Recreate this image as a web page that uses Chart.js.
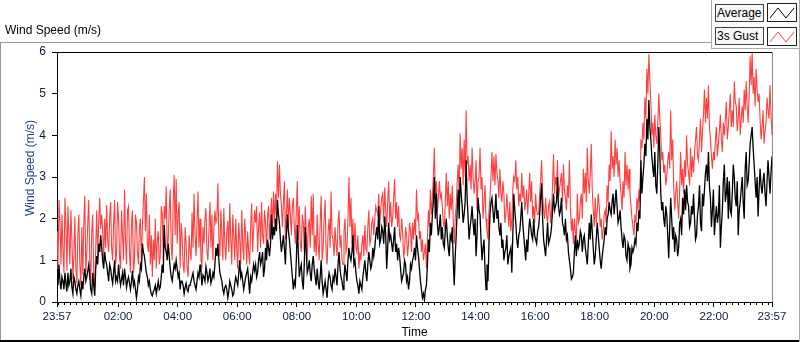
<!DOCTYPE html>
<html>
<head>
<meta charset="utf-8">
<script src="https://cdn.jsdelivr.net/npm/chart.js@4.4.1/dist/chart.umd.min.js"></script>
<style>
  html,body{margin:0;padding:0;background:#fff;}
  #wrap{position:relative;width:800px;height:342px;overflow:hidden;font-family:"Liberation Sans",Arial,sans-serif;}
  #c{position:absolute;left:0;top:0;}
  .ln{position:absolute;}
  #title{position:absolute;left:5px;top:23px;font-size:12px;color:#000;white-space:nowrap;}
  .lgtext{position:absolute;left:715px;width:46px;height:16px;border:1px solid #404040;background:#f7f7f7;font-size:12px;line-height:16px;padding-left:1px;box-sizing:content-box;white-space:nowrap;color:#000;}
  .lgicon{position:absolute;left:767px;width:28px;height:17px;border:1px solid #202020;background:#fff;}
</style>
</head>
<body>
<div id="wrap">
  <canvas id="c" width="800" height="342"></canvas>
  <div id="title">Wind Speed (m/s)</div>
  <div class="ln" style="left:0;top:42px;width:712px;height:1px;background:#999;"></div>
  <div class="ln" style="left:0;top:42px;width:1px;height:300px;background:#999;"></div>
  <div class="ln" style="left:0;top:340px;width:800px;height:2px;background:#000;"></div>
  <div class="ln" style="left:711px;top:0;width:1px;height:49px;background:#aaa;"></div>
  <div class="ln" style="left:711px;top:48px;width:89px;height:1px;background:#aaa;"></div>
  <div class="ln" style="left:799px;top:0;width:1px;height:342px;background:#aaa;"></div>
  <div class="lgtext" style="top:4px;">Average</div>
  <div class="lgicon" style="top:3px;"><svg width="28" height="17"><polyline points="2,14 10,4 18,14 26,4" fill="none" stroke="#000" stroke-width="1"/></svg></div>
  <div class="lgtext" style="top:27px;">3s Gust</div>
  <div class="lgicon" style="top:27px;"><svg width="28" height="17"><polyline points="2,14 10,4 18,14 26,4" fill="none" stroke="#ff4040" stroke-width="1"/></svg></div>
</div>
<script>
// One value every 2 minutes, from 23:57 to 23:57 the next day
const SAMPLE_MINUTES = 2;
const seriesNames = ["Average", "3s Gust"];
const yAxisTitle = "Wind Speed (m/s)";
const xAxisTitle = "Time";
const tickMinutes = [0, 123, 243, 363, 483, 603, 723, 843, 963, 1083, 1203, 1323, 1440];
const tickLabels = ["23:57","02:00","04:00","06:00","08:00","10:00","12:00","14:00","16:00","18:00","20:00","22:00","23:57"];

const gust = [
  1.7,0.8,2.45,1.9,0.9,2.1,1.25,0.7,2.5,1.8,0.75,2.3,1.6,0.9,2.2,1.5,0.55,1.1,2.05,0.8,
  0.45,1.6,2.1,0.9,0.4,1.8,0.65,1.9,2.55,0.7,1.2,1.9,2.45,1.0,0.5,1.7,2.1,0.6,0.35,1.3,
  2.2,1.1,1.9,2.5,1.75,2.1,1.7,1.0,2.0,1.3,2.33,1.5,1.2,2.0,2.4,1.3,1.0,1.9,2.45,0.9,
  1.2,2.4,2.0,1.1,0.8,2.2,1.6,1.0,2.7,1.5,0.9,2.2,2.3,1.2,0.7,1.9,2.2,0.7,1.0,2.1,
  1.9,1.2,0.9,1.8,2.0,1.0,1.8,2.4,3.0,1.7,2.6,1.4,1.2,2.1,0.9,1.6,0.6,1.5,1.0,2.0,
  0.8,1.5,1.7,0.9,1.1,2.3,2.1,1.0,2.3,2.0,2.78,1.2,1.5,2.2,2.7,1.3,1.0,2.4,3.05,1.6,
  2.95,1.4,2.1,2.4,0.8,1.9,1.6,0.9,0.7,1.8,1.4,0.8,0.6,1.6,1.25,1.0,2.15,1.3,2.6,1.6,
  1.1,1.9,2.65,1.3,2.0,1.0,0.9,1.8,1.4,2.0,2.25,1.2,1.0,1.7,2.4,1.3,2.1,1.0,1.75,2.2,
  1.9,2.0,2.85,1.5,1.1,2.2,1.6,1.0,2.25,1.4,1.0,1.7,1.95,1.2,2.37,1.5,0.9,2.1,1.6,1.0,
  2.0,1.3,0.8,1.9,1.5,0.9,2.2,1.4,1.0,2.0,1.6,0.9,1.7,1.2,0.9,1.8,2.37,1.2,1.75,2.2,
  1.9,2.3,1.2,1.8,2.15,1.3,2.4,1.6,1.4,2.2,1.9,1.2,2.05,2.3,1.5,2.0,2.5,1.7,2.65,1.9,
  2.6,2.0,3.38,2.5,3.3,2.6,2.3,1.8,2.4,2.9,1.5,2.1,2.7,1.8,2.5,2.1,1.6,2.3,2.5,1.8,
  1.4,2.2,2.9,1.5,2.3,1.4,1.2,2.1,1.9,1.2,2.3,1.7,1.0,1.8,2.0,1.3,2.55,1.6,2.6,1.2,
  1.6,1.1,2.1,1.4,1.0,1.9,2.55,1.0,1.3,2.0,2.45,1.2,0.9,1.7,2.0,1.3,2.65,1.6,1.5,1.1,
  1.8,1.4,1.1,1.9,2.2,1.3,1.6,1.0,0.9,1.7,2.0,1.2,1.3,2.0,3.0,1.8,2.5,1.4,2.0,1.1,
  1.9,1.3,1.2,1.6,0.8,1.2,1.0,1.4,1.6,1.1,1.85,1.3,1.2,1.8,2.2,1.4,1.5,1.9,2.0,1.6,
  2.0,2.3,2.2,2.1,2.6,1.8,2.25,2.5,2.6,1.9,2.75,2.2,1.8,2.4,2.9,1.9,2.4,1.8,2.0,2.5,
  2.95,2.0,2.4,1.8,2.3,1.6,1.5,2.0,1.7,1.1,1.2,1.8,1.6,1.1,1.4,1.9,1.7,1.2,1.9,1.5,
  2.0,1.6,2.7,2.0,2.1,1.5,1.7,1.2,1.5,1.0,1.2,1.4,0.8,1.5,2.2,1.8,2.7,2.1,2.5,3.0,
  3.7,2.5,2.9,2.2,2.5,2.9,2.5,2.6,2.3,1.9,1.8,2.4,3.1,2.3,2.9,2.0,2.6,2.2,2.8,2.0,
  1.4,2.0,2.3,2.9,3.3,2.6,4.05,3.2,3.7,2.8,3.9,3.0,4.6,3.3,3.5,2.9,3.3,2.7,3.7,3.0,
  2.6,2.9,3.4,2.2,2.9,3.0,3.7,2.7,3.0,2.0,2.4,2.8,2.0,1.7,1.5,2.2,2.5,3.0,3.6,2.9,
  3.5,2.8,3.55,3.1,2.9,2.5,3.2,2.6,2.4,2.9,2.6,1.9,2.1,2.6,2.2,1.8,2.4,1.7,2.0,2.7,
  3.0,2.9,3.4,2.7,3.0,2.3,2.6,2.4,3.1,2.5,2.8,2.2,2.4,2.7,2.1,2.6,3.1,2.4,2.9,2.0,
  2.3,1.9,2.6,2.2,2.1,2.1,2.6,2.9,3.4,2.6,2.2,2.0,2.5,2.1,1.9,2.3,2.4,1.9,2.2,2.8,
  3.55,2.6,3.0,2.8,3.4,2.5,2.7,2.9,3.1,2.4,3.3,2.7,2.5,2.2,2.8,2.5,3.4,2.3,1.7,2.0,
  1.4,2.0,1.7,1.5,2.6,1.9,2.0,2.4,2.6,2.0,3.2,2.6,3.1,2.4,3.7,2.9,2.6,3.1,3.8,2.7,
  2.2,1.8,2.5,1.9,2.2,2.6,2.3,1.8,2.0,1.5,1.7,2.1,2.2,1.9,2.8,2.4,3.3,2.9,4.1,3.2,
  3.5,3.0,3.9,3.3,3.7,3.0,3.4,2.9,2.6,2.2,2.9,2.5,3.6,2.8,3.3,2.7,3.2,2.6,2.3,2.0,
  1.8,1.6,2.1,1.9,2.5,2.2,2.7,2.4,3.9,3.7,4.3,3.9,4.9,4.4,5.6,5.0,5.95,5.3,4.8,4.0,
  4.3,3.7,4.5,4.0,3.8,4.3,5.0,4.4,4.0,3.4,3.6,3.1,3.3,2.8,3.0,3.4,3.6,3.2,4.6,3.4,
  3.9,2.8,2.2,2.6,2.9,2.4,2.0,2.7,3.6,2.8,3.2,2.6,3.4,3.0,4.0,3.3,3.1,2.8,3.7,3.0,
  3.5,3.1,3.6,3.9,4.2,3.5,3.4,3.9,4.4,3.6,4.1,4.5,5.1,4.3,4.9,4.4,5.2,4.2,3.9,3.5,
  3.2,3.6,3.4,3.9,4.2,3.5,3.8,4.1,4.5,3.9,3.6,4.3,4.0,4.4,4.8,3.9,4.2,4.6,5.0,4.2,
  4.6,4.2,5.3,4.8,4.7,4.1,4.4,4.9,4.0,4.4,4.7,4.3,5.1,4.6,5.3,4.7,4.3,5.0,5.9,5.2,
  6.0,5.0,5.4,4.7,5.6,5.1,4.8,5.0,4.4,3.9,4.2,4.6,3.8,4.1,4.3,4.9,4.6,4.4,5.2,4.5,4.0
];

const average = [
  0.6,0.4,0.9,0.5,0.3,0.6,0.5,0.3,0.7,0.45,0.25,0.7,0.4,0.5,0.8,0.35,0.2,0.6,0.5,0.3,
  0.2,0.4,0.5,0.3,0.15,0.5,0.3,0.6,0.8,0.5,0.6,0.75,0.9,0.6,0.3,0.2,0.7,0.4,0.15,0.8,
  1.1,0.9,1.4,1.2,1.6,1.3,1.0,0.8,1.2,1.0,0.9,0.7,0.5,0.9,0.8,0.6,0.45,0.7,1.0,0.5,
  0.6,0.5,0.9,0.6,0.4,0.55,0.7,0.4,0.8,0.6,0.35,0.5,0.6,0.45,0.3,0.5,0.75,0.4,0.5,0.3,
  0.1,0.3,0.6,0.5,0.9,0.8,1.4,1.2,1.1,0.9,0.7,0.6,0.4,0.5,0.3,0.2,0.15,0.25,0.3,0.4,
  0.2,0.35,0.5,0.3,0.35,0.6,0.9,0.7,1.85,1.3,1.2,1.0,1.4,1.1,0.8,0.6,0.5,0.7,0.9,0.8,
  1.0,0.8,0.6,0.7,0.3,0.5,0.5,0.4,0.2,0.35,0.45,0.3,0.25,0.4,0.4,0.5,0.6,0.7,0.5,0.4,
  0.3,0.5,0.7,0.6,0.9,0.7,0.4,0.65,0.6,0.5,0.85,0.7,0.5,0.6,0.8,0.45,0.55,0.7,0.6,0.9,
  1.3,1.1,1.4,1.0,0.7,0.6,0.5,0.3,0.2,0.35,0.4,0.3,0.1,0.25,0.5,0.4,0.3,0.15,0.2,0.45,
  0.6,0.5,0.4,0.7,1.0,0.6,0.7,0.5,0.3,0.45,0.6,0.7,0.8,0.5,0.2,0.6,0.5,0.7,0.9,0.75,
  0.9,0.6,0.7,1.0,1.2,0.9,1.0,1.2,0.6,0.8,1.3,1.0,1.5,1.3,1.1,1.4,2.1,1.5,1.8,1.6,
  2.0,1.7,2.45,2.1,1.9,1.5,1.2,1.4,1.6,1.3,0.9,1.6,2.1,1.7,1.5,1.2,0.9,0.6,0.3,0.5,
  0.4,1.0,1.85,1.2,0.6,0.8,0.9,0.5,0.3,0.9,1.8,1.2,0.7,0.8,1.0,0.7,0.5,0.9,1.1,0.8,
  0.6,0.4,0.8,0.5,0.3,0.6,1.0,0.5,0.2,0.35,0.5,0.3,0.1,0.5,0.7,0.6,0.4,0.3,0.6,0.5,
  0.8,0.6,0.4,0.9,1.2,0.8,0.6,0.5,0.3,0.6,0.9,0.7,0.5,1.0,1.3,1.1,1.0,1.2,1.6,0.9,
  1.0,0.7,0.5,0.4,0.2,0.5,0.4,0.3,0.6,0.8,1.0,0.7,0.5,0.9,1.2,1.0,0.8,0.9,1.3,1.1,
  1.3,1.6,1.8,1.5,2.3,1.4,1.5,1.8,1.7,1.4,2.05,1.6,0.8,1.3,1.9,1.5,1.6,1.4,1.2,1.5,
  1.8,1.2,1.4,1.0,1.3,1.1,0.8,0.5,0.6,0.7,1.0,0.9,0.5,0.6,0.3,0.5,0.9,0.8,1.0,1.1,
  1.3,1.0,1.6,1.3,1.1,0.8,0.5,0.3,0.1,0.2,0.05,0.3,0.4,0.9,1.5,1.2,1.9,1.6,2.1,2.4,
  3.0,2.0,2.6,1.9,1.6,1.8,2.1,1.5,1.8,1.4,1.3,1.7,2.0,1.6,1.3,1.1,1.6,1.5,1.8,1.0,
  0.4,1.1,1.6,2.2,2.7,2.0,3.0,2.6,2.3,1.9,2.1,2.4,3.4,2.5,2.0,1.5,1.8,2.0,2.3,1.9,
  1.6,2.0,1.1,1.6,2.5,2.2,2.1,1.5,1.0,1.3,1.5,0.8,0.3,0.9,0.5,1.4,2.1,2.4,2.5,2.2,
  1.9,2.2,2.6,2.0,2.2,1.8,1.6,1.9,1.3,1.5,1.0,1.2,1.3,1.6,0.9,1.1,1.2,1.3,0.7,1.6,
  2.6,2.2,1.9,1.5,1.3,1.6,1.7,2.0,2.4,1.9,1.6,1.3,1.0,1.5,1.2,1.7,2.0,1.8,1.6,1.5,
  2.0,1.6,1.5,1.4,1.7,1.8,2.1,2.5,2.85,2.0,1.5,1.3,1.1,1.5,1.9,1.4,1.5,1.6,1.8,2.2,
  2.6,2.2,2.3,2.4,3.0,2.3,2.1,2.2,2.5,1.9,1.8,1.6,2.0,1.5,1.6,1.2,1.0,0.8,0.55,0.6,
  0.7,1.2,1.6,1.1,1.5,1.3,1.4,1.7,1.6,1.2,1.5,1.6,1.3,1.1,0.9,1.4,1.9,1.5,2.1,1.7,
  1.3,0.9,1.1,1.5,1.9,1.6,1.3,1.0,0.8,1.1,1.3,1.5,1.8,1.6,2.0,2.1,2.4,2.2,2.1,2.4,
  2.6,2.1,2.4,2.7,2.3,1.9,2.0,2.2,1.8,1.5,1.3,1.6,1.5,1.1,1.0,1.4,1.3,0.8,0.9,1.3,
  1.2,1.3,1.5,1.4,1.9,1.7,2.2,2.0,3.4,2.6,3.0,3.3,3.8,3.5,4.4,3.9,4.85,4.2,3.9,3.5,
  3.2,3.0,3.6,2.8,2.6,3.3,4.2,3.6,2.6,2.2,2.4,2.0,1.8,2.3,2.1,1.6,1.05,1.8,2.5,2.0,
  1.5,1.8,1.2,1.6,1.5,1.1,1.3,1.9,2.0,1.6,2.5,2.1,2.7,2.2,2.8,2.4,2.3,1.8,1.9,2.3,
  2.1,2.6,2.0,1.5,1.6,2.1,2.3,2.8,1.9,1.7,2.6,2.3,2.7,3.1,3.3,2.9,3.6,2.8,2.5,1.8,
  2.2,2.7,1.6,2.0,2.3,1.9,2.1,2.8,1.3,1.8,2.2,2.9,3.3,2.4,2.6,3.0,2.0,2.9,2.2,2.1,
  2.6,3.3,3.0,2.5,2.3,2.9,1.6,2.2,2.4,2.7,3.0,2.4,2.0,3.2,3.6,2.8,2.9,3.3,3.8,4.0,
  4.2,3.7,3.3,2.9,2.5,3.0,2.05,2.7,3.2,2.8,2.6,2.9,3.1,2.6,2.3,2.9,3.4,3.0,2.6,3.1,3.5
];

const toPoints = arr => arr.map((v, i) => ({ x: i * SAMPLE_MINUTES, y: v }));

const frameDecor = {
  id: 'frameDecor',
  afterDraw(chart) {
    const { ctx, chartArea: a, scales } = chart;
    ctx.save();
    ctx.lineWidth = 1;
    ctx.strokeStyle = '#000';
    ctx.beginPath();
    ctx.moveTo(a.left, Math.floor(a.top) + 0.5);
    ctx.lineTo(a.right, Math.floor(a.top) + 0.5);
    ctx.stroke();
    ctx.strokeStyle = '#8a8a8a';
    ctx.beginPath();
    ctx.moveTo(Math.round(a.right) + 0.5, a.top);
    ctx.lineTo(Math.round(a.right) + 0.5, a.bottom);
    ctx.stroke();
    const xs = scales.x;
    ctx.strokeStyle = '#000';
    ctx.beginPath();
    for (let m = 3; m < 1440; m += 12) {
      if (tickMinutes.includes(m)) continue;
      const px = Math.round(xs.getPixelForValue(m)) + 0.5;
      ctx.moveTo(px, a.bottom);
      ctx.lineTo(px, a.bottom + 3);
    }
    ctx.stroke();
    ctx.translate(31, 168);
    ctx.rotate(-Math.PI / 2);
    ctx.fillStyle = '#1f3f8f';
    ctx.font = '12px "Liberation Sans"';
    ctx.textAlign = 'center';
    ctx.textBaseline = 'middle';
    ctx.fillText(yAxisTitle, 0, 0);
    ctx.restore();
  }
};

new Chart(document.getElementById('c'), {
  type: 'line',
  data: {
    datasets: [
      { label: seriesNames[0], data: toPoints(average), borderColor: '#000000', borderWidth: 1.3, pointRadius: 0, tension: 0, order: 0 },
      { label: seriesNames[1], data: toPoints(gust), borderColor: '#ff4040', borderWidth: 1.1, pointRadius: 0, tension: 0, order: 1 }
    ]
  },
  options: {
    responsive: false,
    animation: false,
    devicePixelRatio: 1,
    layout: { padding: { left: 0, top: 52, right: 28, bottom: 0 } },
    plugins: { legend: { display: false }, tooltip: { enabled: false } },
    scales: {
      x: {
        type: 'linear',
        min: 0, max: 1440,
        afterBuildTicks: s => { s.ticks = tickMinutes.map(v => ({ value: v })); },
        afterFit: s => { s.height = 40; },
        ticks: {
          autoSkip: false, maxRotation: 0, minRotation: 0, padding: 3,
          color: '#0d1a3a',
          font: { family: 'Liberation Sans', size: 11.5 },
          callback: (v) => { const i = tickMinutes.indexOf(v); return i >= 0 ? tickLabels[i] : ''; }
        },
        grid: { drawOnChartArea: false, drawTicks: true, tickLength: 5, color: '#000' },
        border: { display: true, color: '#000', width: 1 },
        title: { display: true, text: xAxisTitle, color: '#000', font: { family: 'Liberation Sans', size: 12 }, padding: { top: 0, bottom: 2 } }
      },
      y: {
        min: 0, max: 6,
        afterFit: s => { s.width = 57; },
        ticks: { stepSize: 1, padding: 6, color: '#0d1a3a', font: { family: 'Liberation Sans', size: 12 } },
        grid: { drawOnChartArea: false, drawTicks: true, tickLength: 5, color: '#000' },
        border: { display: true, color: '#000', width: 1 },
        title: { display: false, text: yAxisTitle }
      }
    }
  },
  plugins: [frameDecor]
});
</script>
</body>
</html>
